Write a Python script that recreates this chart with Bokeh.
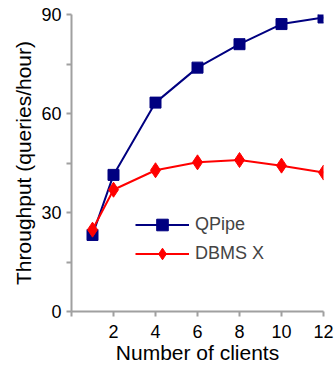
from bokeh.plotting import figure
from bokeh.models import FixedTicker, Range1d, Legend, LegendItem
from bokeh.embed import file_html
from bokeh.resources import INLINE

clients = [1, 2, 4, 6, 8, 10, 12]
qpipe = [23.2, 41.4, 63.3, 73.9, 81.0, 87.1, 89.1]
dbmsx = [24.8, 36.9, 42.8, 45.2, 45.9, 44.2, 42.1]
x_ticks = [0, 2, 4, 6, 8, 10, 12]
y_ticks = [0, 15, 30, 45, 60, 75, 90]

FONT = "Liberation Sans"
AX = "#a0a0a0"

p = figure(width=334, height=366, output_backend="svg", toolbar_location=None,
           x_range=Range1d(0, 12), y_range=Range1d(0, 90),
           min_border_left=71, min_border_right=11, min_border_top=14, min_border_bottom=55)
p.outline_line_color = None
p.grid.visible = False
p.background_fill_color = "white"

for ax in (p.xaxis[0], p.yaxis[0]):
    ax.axis_line_color = AX
    ax.axis_line_width = 2
    ax.major_tick_line_color = AX
    ax.major_tick_line_width = 2
    ax.major_tick_out = 5
    ax.major_tick_in = 0
    ax.minor_tick_line_color = None
    ax.major_label_text_font = FONT
    ax.major_label_text_font_size = "18px"
    ax.major_label_text_color = "black"
    ax.axis_label_text_font = FONT
    ax.axis_label_text_font_size = "21px"
    ax.axis_label_text_font_style = "normal"
    ax.axis_label_text_color = "black"

p.xaxis.ticker = FixedTicker(ticks=x_ticks)
p.xaxis.major_label_overrides = {0: ""}
p.xaxis.axis_label = "Number of clients"
p.xaxis.major_label_standoff = 8
p.xaxis.axis_label_standoff = 0
p.yaxis.ticker = FixedTicker(ticks=y_ticks)
p.yaxis.major_label_overrides = {15: "", 45: "", 75: ""}
p.yaxis.axis_label = "Throughput (queries/hour)"
p.yaxis.major_label_standoff = 5
p.yaxis.axis_label_standoff = 3

l1 = p.line(clients, qpipe, line_color="#000080", line_width=2)
s1 = p.scatter(clients, qpipe, marker="square", size=11, fill_color="#000080", line_color="#000080")
l2 = p.line(clients, dbmsx, line_color="#ff0000", line_width=2)
s2 = p.scatter(clients, dbmsx, marker="diamond", size=15, fill_color="#ff0000", line_color="#ff0000")

legend = Legend(items=[LegendItem(label="QPipe", renderers=[l1, s1]),
                       LegendItem(label="DBMS X", renderers=[l2, s2])],
                location=(64, 43), glyph_width=54, glyph_height=29, label_height=29,
                spacing=0, padding=0, margin=0, label_standoff=6,
                border_line_color=None, background_fill_alpha=0,
                label_text_font=FONT, label_text_font_size="18px")
p.add_layout(legend, "center")

open("out.html", "w").write(file_html(p, INLINE))
